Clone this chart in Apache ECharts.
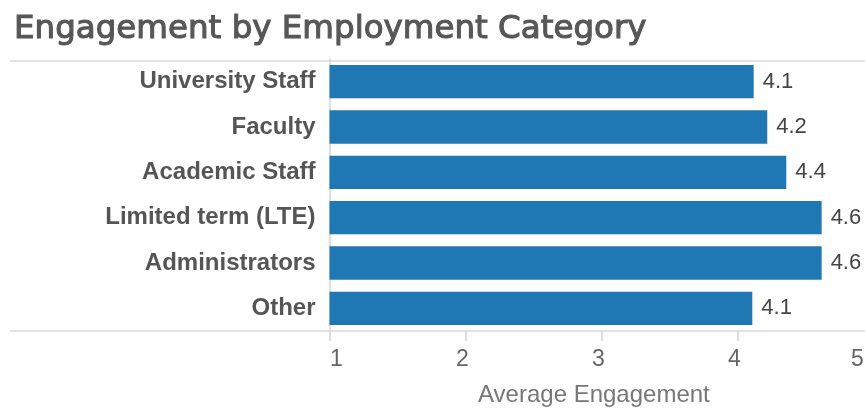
<!DOCTYPE html>
<html>
<head>
<meta charset="utf-8">
<script src="https://cdn.jsdelivr.net/npm/echarts@6/dist/echarts.min.js"></script>
<style>
html,body{margin:0;padding:0;background:#fff;}
#chart{width:865px;height:409px;}
</style>
</head>
<body>
<div id="chart"></div>
<script>
const categories = ["University Staff", "Faculty", "Academic Staff", "Limited term (LTE)", "Administrators", "Other"];
const engagement = [4.12, 4.22, 4.36, 4.62, 4.62, 4.11];
const xTicks = [1, 2, 3, 4, 5];
const titleText = "Engagement by Employment Category";
const axisTitle = "Average Engagement";

const chart = echarts.init(document.getElementById('chart'), null, {renderer: 'canvas'});
const tickFont = {fontFamily: 'Liberation Sans', fontSize: 23, color: '#666'};
const option = {
  animation: false,
  title: {
    text: titleText,
    left: 9, top: 8,
    textStyle: {fontFamily: 'DejaVu Sans', fontSize: 32.5, fontWeight: 'normal', color: '#575757',
      textBorderColor: '#575757', textBorderWidth: 1.1}
  },
  grid: {left: 329.5, right: -8.3, top: 59, bottom: 78, containLabel: false, outerBoundsMode: 'none'},
  xAxis: {
    type: 'value',
    min: xTicks[0], max: xTicks[xTicks.length - 1], interval: 1,
    name: axisTitle,
    nameLocation: 'middle',
    nameGap: 52,
    nameTextStyle: {fontFamily: 'Liberation Sans', fontSize: 24, color: '#777', padding: [0, 15, 0, 0]},
    axisLine: {show: false},
    axisTick: {show: true, length: 10, lineStyle: {color: '#d4d4d4', width: 1.5}},
    splitLine: {show: false},
    axisLabel: {
      fontFamily: 'Liberation Sans', fontSize: 23, color: '#666', margin: 17,
      formatter: function (v) {
        if (v === xTicks[0]) return '{f|' + v + '}';
        if (v === xTicks[xTicks.length - 1]) return '{r|' + v + '}';
        return '{m|' + v + '}';
      },
      rich: {
        f: Object.assign({padding: [0, 0, 0, 14]}, tickFont),
        m: Object.assign({padding: [0, 6, 0, 0]}, tickFont),
        r: Object.assign({padding: [0, 32, 0, 0]}, tickFont)
      }
    }
  },
  yAxis: {
    type: 'category',
    data: categories,
    inverse: true,
    axisLine: {show: true, lineStyle: {color: '#d4d4d4', width: 1.5}},
    axisTick: {show: false},
    axisLabel: {fontFamily: 'Liberation Sans', fontSize: 24, fontWeight: 'bold', color: '#555', margin: 14}
  },
  series: [{
    type: 'bar',
    data: engagement,
    barWidth: '73.5%',
    itemStyle: {color: '#1f77b4'},
    label: {
      show: true, position: 'right', distance: 9,
      fontFamily: 'Liberation Sans', fontSize: 22, color: '#444',
      formatter: function (p) { return p.value.toFixed(1); }
    }
  }],
  graphic: [
    {type: 'line', shape: {x1: 10, y1: 61, x2: 865, y2: 61}, style: {stroke: '#d9d9d9', lineWidth: 1.5}, z: 0},
    {type: 'line', shape: {x1: 10, y1: 331, x2: 865, y2: 331}, style: {stroke: '#d9d9d9', lineWidth: 1.5}, z: 0}
  ]
};
chart.setOption(option);
</script>
</body>
</html>
